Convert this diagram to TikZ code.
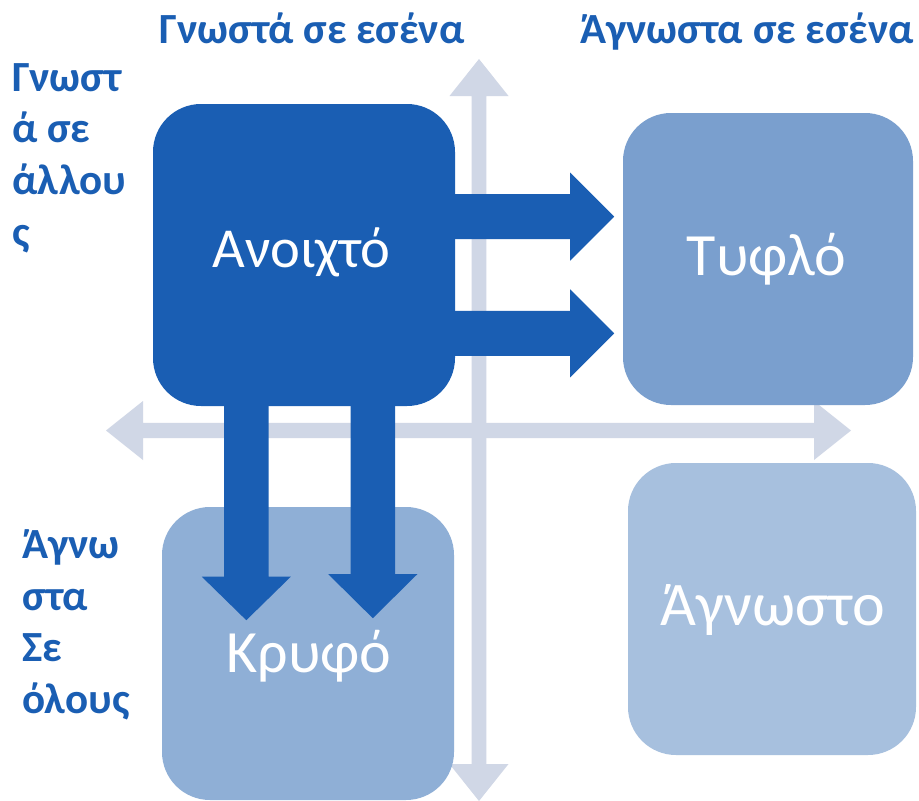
\documentclass[tikz,border=0pt]{standalone}
\usepackage{fontspec}
\setmainfont{Carlito}
\usetikzlibrary{calc}

\definecolor{deepblue}{HTML}{1A5EB3}
\definecolor{blindblue}{HTML}{7A9FCE}
\definecolor{hiddenblue}{HTML}{8FAFD6}
\definecolor{unknownblue}{HTML}{A7C0DE}
\definecolor{axisgrey}{HTML}{D0D7E6}

\tikzset{
  quadrant/.style={rectangle, rounded corners=48pt, inner sep=0pt, draw=none},
  quadlabel/.style={text=white, anchor=base, inner sep=0pt},
  header/.style={text=deepblue, font=\fontsize{43}{50}\selectfont\bfseries, anchor=base, inner sep=0pt},
  sidelabel/.style={text=deepblue, font=\fontsize{43}{51.7}\selectfont\bfseries, align=left, anchor=north west, inner sep=0pt},
  axisfill/.style={fill=axisgrey},
  blockarrow/.style={fill=deepblue}
}

\begin{document}
\begin{tikzpicture}[x=1pt, y=-1pt]
  \fill[white] (0,0) rectangle (919,801);
  \useasboundingbox (0,0) rectangle (919,801);

  % axis coordinates
  \coordinate (hleft) at (106,430.5);
  \coordinate (hright) at (851,430.5);
  \coordinate (vtop) at (479,59);
  \coordinate (vbottom) at (479,801);

  % horizontal double arrow
  \fill[axisfill] (hleft) -- ++(37,-29.5) -- ++(0,21.9) -- ($(hright)+(-37,-7.6)$)
    -- ++(0,-21.9) -- (hright) -- ++(-37,29.5) -- ++(0,-21.9)
    -- ($(hleft)+(37,7.6)$) -- ++(0,21.9) -- cycle;
  % vertical double arrow
  \fill[axisfill] (vtop) -- ++(29.5,37) -- ++(-22.2,0) -- ($(vbottom)+(7.3,-37)$)
    -- ++(22.2,0) -- (vbottom) -- ++(-29.5,-37) -- ++(22.2,0)
    -- ($(vtop)+(-7.3,37)$) -- ++(-22.2,0) -- cycle;

  % the four quadrants
  \node[quadrant, fill=deepblue, minimum width=302pt, minimum height=302pt] (open) at (304,255) {};
  \node[quadrant, fill=blindblue, minimum width=290pt, minimum height=292pt] (blind) at (768,259) {};
  \node[quadrant, fill=hiddenblue, minimum width=292pt, minimum height=293pt] (hidden) at (308,653.5) {};
  \node[quadrant, fill=unknownblue, minimum width=288pt, minimum height=292pt] (unknown) at (772,609) {};

  % block arrows from the open area towards the blind area
  \fill[blockarrow] ($(open.east)+(0,-60.8)$) -- ++(115,0) -- ++(0,-21.5) -- ++(44,44)
    -- ++(-44,44) -- ++(0,-21.5) -- ++(-115,0) -- cycle;
  \fill[blockarrow] ($(open.east)+(0,55.9)$) -- ++(115,0) -- ++(0,-21.5) -- ++(44,44)
    -- ++(-44,44) -- ++(0,-21.5) -- ++(-115,0) -- cycle;

  % block arrows from the open area towards the hidden area
  \fill[blockarrow] ($(open.south)+(-79.9,0)$) -- ++(0,170.5) -- ++(-22.3,0) -- ++(44.5,43.5)
    -- ++(44.5,-43.5) -- ++(-22.3,0) -- ++(0,-170.5) -- cycle;
  \fill[blockarrow] ($(open.south)+(46.6,0)$) -- ++(0,168) -- ++(-22.3,0) -- ++(44.5,44)
    -- ++(44.5,-44) -- ++(-22.3,0) -- ++(0,-168) -- cycle;

  % quadrant names
  \node[quadlabel, font=\fontsize{56.5}{64}\selectfont] (openlbl) at (301.5,267) {Ανοιχτό};
  \node[quadlabel, font=\fontsize{60}{68}\selectfont] (blindlbl) at (766.5,275) {Τυφλό};
  \node[quadlabel, font=\fontsize{60}{68}\selectfont] (hiddenlbl) at (309,672) {Κρυφό};
  \node[quadlabel, font=\fontsize{62}{70}\selectfont] (unknownlbl) at (773,625) {Άγνωστο};

  % axis headings
  \node[header] (knownself) at (312,43) {Γνωστά σε εσένα};
  \node[header] (unknownself) at (747,43) {Άγνωστα σε εσένα};
  \node[sidelabel] (knownothers) at (12,63) {Γνωστ\\ά σε\\άλλου\\ς};
  \node[sidelabel] (unknownothers) at (22,529.5) {Άγνω\\στα\\Σε\\όλους};
\end{tikzpicture}
\end{document}
